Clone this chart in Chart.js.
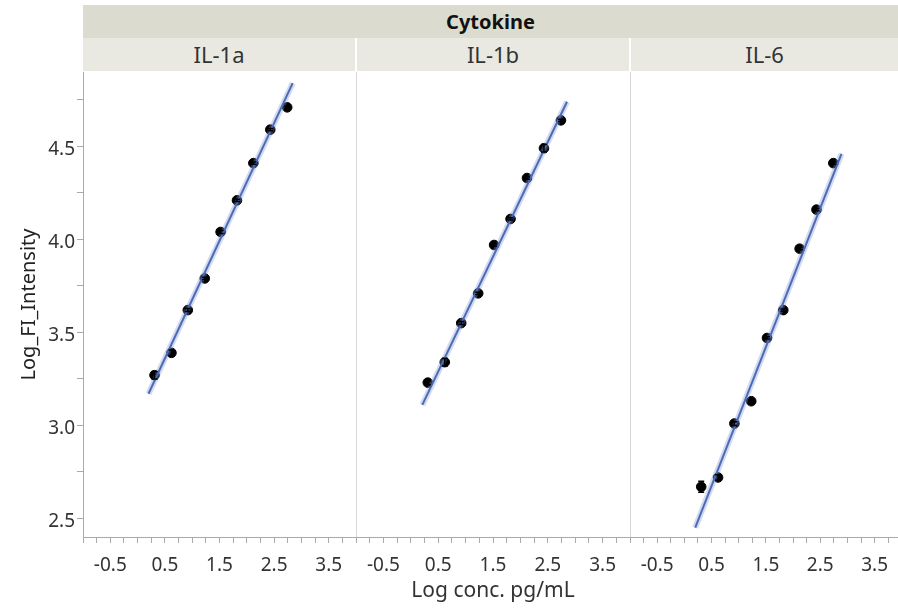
<!DOCTYPE html>
<html>
<head>
<meta charset="utf-8">
<script src="https://cdn.jsdelivr.net/npm/chart.js@4.4.0/dist/chart.umd.min.js"></script>
<style>
    body { margin: 0; background: #fff; width: 898px; height: 608px; overflow: hidden; position: relative; font-family: "Noto Sans", sans-serif; color: #222; }
    .band { position: absolute; left: 83px; top: 5px; width: 815px; height: 33px; background: #dcdbcf; text-align: center; line-height: 33px; font-weight: bold; font-size: 20px; color: #111; }
    .lab { position: absolute; top: 38px; height: 33px; background: #e9e9e1; text-align: center; line-height: 33px; font-size: 22px; color: #333; }
    canvas { position: absolute; top: 72px; }
</style>
</head>
<body>
<div class="band">Cytokine</div>
<div class="lab" style="left:83px;width:272px">IL-1a</div>
<div class="lab" style="left:357px;width:272px">IL-1b</div>
<div class="lab" style="left:631px;width:267px">IL-6</div>
<canvas id="c0" width="356" height="536" style="left:0"></canvas>
<canvas id="c1" width="274" height="536" style="left:356px"></canvas>
<canvas id="c2" width="268" height="536" style="left:630px"></canvas>
<script>
// data
const cytokines = ['IL-1a', 'IL-1b', 'IL-6']
const logConc = [0.31, 0.62, 0.92, 1.23, 1.52, 1.82, 2.12, 2.43, 2.74]

const il1aMean = [3.27, 3.39, 3.62, 3.79, 4.04, 4.21, 4.41, 4.59, 4.71]
const il1bMean = [3.23, 3.34, 3.55, 3.71, 3.97, 4.11, 4.33, 4.49, 4.64]
const il6Mean = [2.67, 2.72, 3.01, 3.13, 3.47, 3.62, 3.95, 4.16, 4.41]

const il1aErr = [0.02, 0.015, 0.008, 0.006, 0.008, 0.006, 0.006, 0.006, 0.006]
const il1bErr = [0.012, 0.02, 0.008, 0.006, 0.006, 0.006, 0.006, 0.02, 0.006]
const il6Err = [0.03, 0.015, 0.01, 0.006, 0.006, 0.006, 0.006, 0.006, 0.006]

// fitted line end points [x, y]
const il1aFit = [[0.20, 3.17], [2.84, 4.84]]
const il1bFit = [[0.21, 3.11], [2.85, 4.74]]
const il6Fit = [[0.20, 2.45], [2.89, 4.46]]

const xTickLabels = [-0.5, 0.5, 1.5, 2.5, 3.5]
const yTickLabels = [2.5, 3.0, 3.5, 4.0, 4.5]
const xRange = [[-1, 4], [-1, 4], [-1, 3.93]]
const yRange = [2.4, 4.9]
const minorStep = 0.25

const means = [il1aMean, il1bMean, il6Mean]
const errs = [il1aErr, il1bErr, il6Err]
const fits = [il1aFit, il1bFit, il6Fit]

Chart.defaults.font.family = "'Noto Sans', sans-serif"
Chart.defaults.color = '#333'

const tickFont = {size: 19}

function minorTicks(min, max) { // tick marks every 0.25
    let list = []
    for (let v = Math.ceil(min / minorStep) * minorStep; v <= max + 1e-9; v += minorStep) {
        list.push({value: Math.round(v * 100) / 100})
    }
    return list
}

const errorBars = {
    id: 'errorBars',
    afterDatasetsDraw(chart, args, opts) {
        const ctx = chart.ctx
        const meta = chart.getDatasetMeta(2)
        const ys = chart.scales.y
        ctx.save()
        ctx.strokeStyle = '#000'
        ctx.lineWidth = 1.5
        meta.data.forEach((pt, i) => {
            const d = chart.data.datasets[2].data[i]
            const top = ys.getPixelForValue(d.y + opts.err[i])
            const bot = ys.getPixelForValue(d.y - opts.err[i])
            ctx.beginPath()
            ctx.moveTo(pt.x, top); ctx.lineTo(pt.x, bot)
            ctx.moveTo(pt.x - 3, top); ctx.lineTo(pt.x + 3, top)
            ctx.moveTo(pt.x - 3, bot); ctx.lineTo(pt.x + 3, bot)
            ctx.stroke()
        })
        ctx.restore()
    }
}

const panelBorder = {
    id: 'panelBorder',
    beforeDraw(chart, args, opts) {
        if (!opts.show) return
        const a = chart.chartArea
        const ctx = chart.ctx
        ctx.save()
        ctx.strokeStyle = '#d6d6d6'
        ctx.lineWidth = 1
        ctx.beginPath()
        ctx.moveTo(a.left + 0.5, a.top)
        ctx.lineTo(a.left + 0.5, a.bottom)
        ctx.stroke()
        ctx.restore()
    }
}

function makePanel(idx) {
    const fit = fits[idx]
    return new Chart(document.getElementById('c' + idx), {
        type: 'scatter',
        data: {
            datasets: [
                { // confidence shading
                    type: 'line',
                    data: fit.map(p => ({x: p[0], y: p[1]})),
                    borderColor: 'rgba(120,150,215,0.35)',
                    borderWidth: 6,
                    pointRadius: 0
                },
                { // fit line
                    type: 'line',
                    data: fit.map(p => ({x: p[0], y: p[1]})),
                    borderColor: '#3a54a4',
                    borderWidth: 2,
                    pointRadius: 0
                },
                { // means
                    data: logConc.map((x, i) => ({x: x, y: means[idx][i]})),
                    backgroundColor: '#000',
                    borderColor: '#000',
                    pointRadius: 4.8
                }
            ]
        },
        options: {
            responsive: false,
            animation: false,
            layout: {padding: 0, autoPadding: false},
            plugins: {
                legend: {display: false},
                tooltip: {enabled: false},
                errorBars: {err: errs[idx]},
                panelBorder: {show: idx > 0}
            },
            scales: {
                x: {
                    type: 'linear',
                    min: xRange[idx][0],
                    max: xRange[idx][1],
                    afterBuildTicks: s => { s.ticks = minorTicks(s.min, s.max) },
                    afterFit: s => { s.height = 71; s.paddingLeft = 0; s.paddingRight = 0 },
                    ticks: {
                        autoSkip: false,
                        maxRotation: 0,
                        padding: 11,
                        font: tickFont,
                        color: '#333',
                        callback: v => xTickLabels.includes(v) ? v.toFixed(1) : ''
                    },
                    grid: {drawOnChartArea: false, drawTicks: true, tickLength: 6, color: '#aaa'},
                    border: {color: '#aaa'},
                    title: {
                        display: idx === 1,
                        text: 'Log conc. pg/mL',
                        font: {size: 21},
                        color: '#333',
                        padding: {top: 0, bottom: 4}
                    }
                },
                y: {
                    type: 'linear',
                    display: idx === 0,
                    min: yRange[0],
                    max: yRange[1],
                    afterBuildTicks: s => { s.ticks = minorTicks(s.min, s.max) },
                    afterFit: s => { s.width = idx === 0 ? 83 : 0; s.paddingTop = 0; s.paddingBottom = 0 },
                    ticks: {
                        autoSkip: false,
                        padding: 2,
                        labelOffset: 3,
                        font: tickFont,
                        color: '#333',
                        callback: v => yTickLabels.includes(v) ? v.toFixed(1) : ''
                    },
                    grid: {drawOnChartArea: false, drawTicks: true, tickLength: 6, color: '#aaa'},
                    border: {color: '#aaa'},
                    title: {
                        display: true,
                        text: 'Log_FI_Intensity',
                        font: {size: 20},
                        color: '#222',
                        padding: {top: 17, bottom: 0}
                    }
                }
            }
        },
        plugins: [errorBars, panelBorder]
    })
}

cytokines.forEach((name, i) => makePanel(i))
</script>
</body>
</html>
